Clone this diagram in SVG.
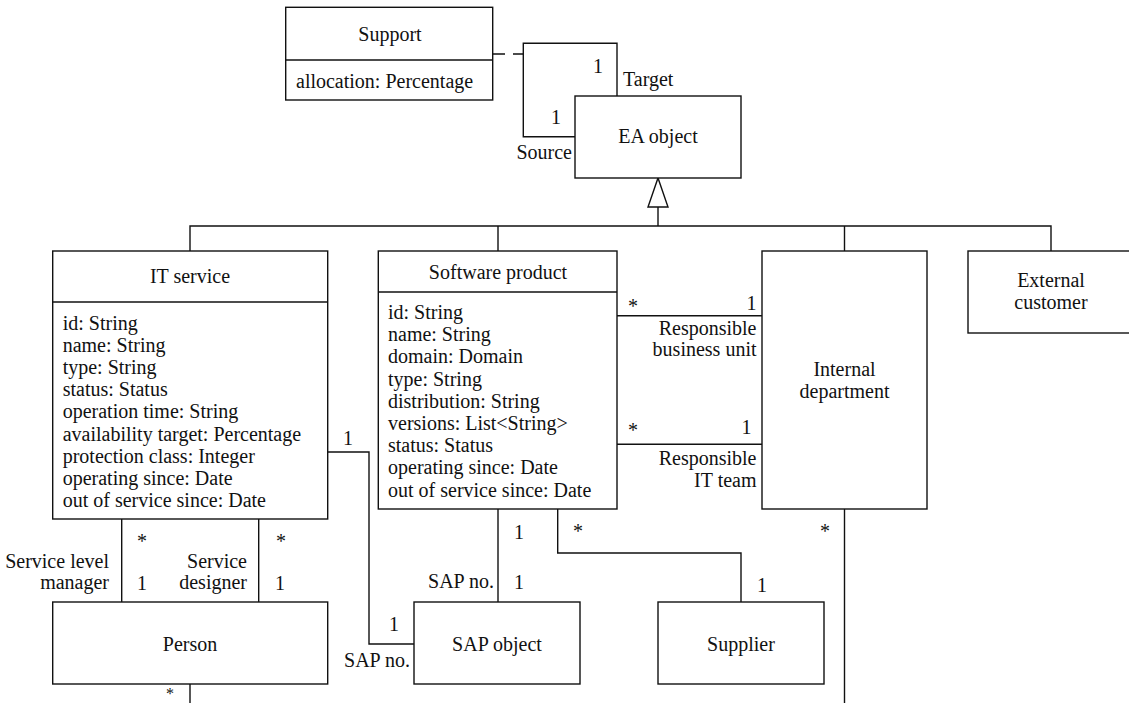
<svg xmlns="http://www.w3.org/2000/svg" width="1129" height="703" viewBox="0 0 1129 703">
  <style>
    .box { fill: #fff; stroke: #111; stroke-width: 1.4; }
    .ln { fill: none; stroke: #111; stroke-width: 1.4; }
    .dash { stroke-dasharray: 12 8; }
    text { font-family: "Liberation Serif", "Times New Roman", serif; font-size: 20px; fill: #111; }
    .c { text-anchor: middle; }
    .r { text-anchor: end; }
    .sm { font-size: 16px; }
  </style>
  <rect width="1129" height="703" fill="#fff"/>

  <!-- connectors -->
  <g id="connectors">
    <!-- generalization tree -->
    <path class="ln" d="M190,251 V226 H1051 V251 M498,226 V251 M844.5,226 V251 M658,226 V207"/>
    <polygon class="box" points="648,207 668,207 658,178"/>
    <!-- association class link -->
    <line class="ln dash" x1="493" y1="54" x2="523.3" y2="54"/>
    <!-- Support self association on EA object -->
    <path class="ln" d="M617,96 V43.3 H523.3 V136.7 H575"/>
    <!-- Software product to Internal department -->
    <line class="ln" x1="617" y1="315.7" x2="762" y2="315.7"/>
    <line class="ln" x1="617" y1="444.3" x2="762" y2="444.3"/>
    <!-- IT service to SAP object -->
    <path class="ln" d="M327.7,452 H369 V644 H414"/>
    <!-- IT service to Person -->
    <line class="ln" x1="121.7" y1="519" x2="121.7" y2="602"/>
    <line class="ln" x1="258.7" y1="519" x2="258.7" y2="602"/>
    <line class="ln" x1="190" y1="684" x2="190" y2="703"/>
    <!-- Software product to SAP object and Supplier -->
    <line class="ln" x1="498" y1="509" x2="498" y2="602"/>
    <path class="ln" d="M557.7,509 V553 H741 V602"/>
    <!-- Internal department downward -->
    <line class="ln" x1="844.5" y1="509" x2="844.5" y2="703"/>

    <!-- multiplicities and role names -->
    <text class="c" x="598" y="72.5">1</text>
    <text x="623" y="86">Target</text>
    <text class="c" x="556" y="123.5">1</text>
    <text class="r" x="572" y="159">Source</text>

    <text class="c" x="633" y="312.5">*</text>
    <text class="c" x="751.5" y="309.5">1</text>
    <text class="r" x="756.5" y="334.5">Responsible</text>
    <text class="r" x="756.5" y="356">business unit</text>

    <text class="c" x="633" y="437">*</text>
    <text class="c" x="746.5" y="433.5">1</text>
    <text class="r" x="756.5" y="464.5">Responsible</text>
    <text class="r" x="756.5" y="487">IT team</text>

    <text class="c" x="348" y="444.5">1</text>

    <text class="c" x="142" y="547.5">*</text>
    <text class="r" x="109" y="568">Service level</text>
    <text class="r" x="109" y="589">manager</text>
    <text class="c" x="142" y="589.5">1</text>
    <text class="r" x="247" y="568">Service</text>
    <text class="r" x="247" y="589">designer</text>
    <text class="c" x="281" y="547.5">*</text>
    <text class="c" x="280" y="589.5">1</text>
    <text class="c sm" x="170" y="698.5">*</text>

    <text class="c" x="394" y="630.5">1</text>
    <text class="r" x="410" y="667">SAP no.</text>
    <text class="c" x="519" y="538.5">1</text>
    <text class="r" x="494" y="588">SAP no.</text>
    <text class="c" x="519" y="588.5">1</text>
    <text class="c" x="578" y="537.5">*</text>
    <text class="c" x="762" y="591.5">1</text>
    <text class="c" x="825" y="537.5">*</text>
  </g>

  <!-- Support (association class) -->
  <g id="support">
    <rect class="box" x="285.7" y="7.3" width="207" height="92.7"/>
    <line class="ln" x1="285.7" y1="60" x2="492.7" y2="60"/>
    <text class="c" x="390" y="41">Support</text>
    <text x="296" y="88">allocation: Percentage</text>
  </g>

  <!-- EA object -->
  <g id="ea-object">
    <rect class="box" x="575" y="96" width="166" height="82"/>
    <text class="c" x="658" y="143">EA object</text>
  </g>

  <!-- IT service -->
  <g id="it-service">
    <rect class="box" x="52.7" y="251" width="275" height="268"/>
    <line class="ln" x1="52.7" y1="302" x2="327.7" y2="302"/>
    <text class="c" x="190" y="283">IT service</text>
    <text x="62.7" y="329.5">id: String</text>
    <text x="62.7" y="351.7">name: String</text>
    <text x="62.7" y="373.9">type: String</text>
    <text x="62.7" y="396.1">status: Status</text>
    <text x="62.7" y="418.3">operation time: String</text>
    <text x="62.7" y="440.5">availability target: Percentage</text>
    <text x="62.7" y="462.7">protection class: Integer</text>
    <text x="62.7" y="484.9">operating since: Date</text>
    <text x="62.7" y="507.1">out of service since: Date</text>
  </g>

  <!-- Software product -->
  <g id="software-product">
    <rect class="box" x="378.3" y="251" width="238.7" height="258"/>
    <line class="ln" x1="378.3" y1="292" x2="617" y2="292"/>
    <text class="c" x="498" y="278.5">Software product</text>
    <text x="388" y="319">id: String</text>
    <text x="388" y="341.2">name: String</text>
    <text x="388" y="363.4">domain: Domain</text>
    <text x="388" y="385.6">type: String</text>
    <text x="388" y="407.8">distribution: String</text>
    <text x="388" y="430">versions: List&lt;String&gt;</text>
    <text x="388" y="452.2">status: Status</text>
    <text x="388" y="474.4">operating since: Date</text>
    <text x="388" y="496.6">out of service since: Date</text>
  </g>

  <!-- Internal department -->
  <g id="internal-department">
    <rect class="box" x="762" y="251" width="165" height="258"/>
    <text class="c" x="844.5" y="376">Internal</text>
    <text class="c" x="844.5" y="398">department</text>
  </g>

  <!-- External customer -->
  <g id="external-customer">
    <rect class="box" x="968" y="251" width="166" height="82"/>
    <text class="c" x="1051" y="287">External</text>
    <text class="c" x="1051" y="309">customer</text>
  </g>

  <!-- Person -->
  <g id="person">
    <rect class="box" x="52.7" y="602" width="275" height="82"/>
    <text class="c" x="190" y="651">Person</text>
  </g>

  <!-- SAP object -->
  <g id="sap-object">
    <rect class="box" x="414" y="602" width="166" height="82"/>
    <text class="c" x="497" y="651">SAP object</text>
  </g>

  <!-- Supplier -->
  <g id="supplier">
    <rect class="box" x="658" y="602" width="166" height="82"/>
    <text class="c" x="741" y="651">Supplier</text>
  </g>
</svg>
